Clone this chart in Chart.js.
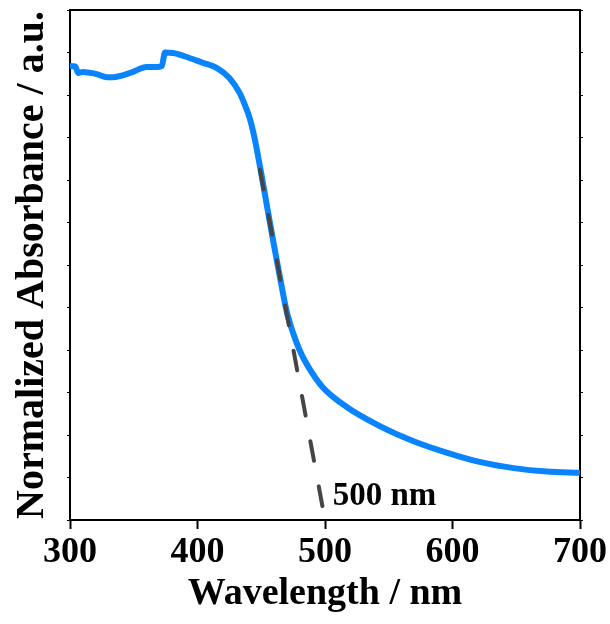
<!DOCTYPE html>
<html>
<head>
<meta charset="utf-8">
<script src="https://cdn.jsdelivr.net/npm/chart.js@4"></script>
<style>
  html, body { margin: 0; padding: 0; background: #fff; }
  #c { display: block; }
</style>
</head>
<body>
<canvas id="c" width="610" height="624"></canvas>
<script>
// ---- data ----
const wavelengths = [300, 304, 306.5, 310, 316, 321, 329, 334, 342, 349, 360, 369, 372, 374.5, 381, 391, 404, 415, 425, 433, 437, 441, 445, 450, 455, 460, 465, 470, 475, 480, 486, 498, 517, 543, 569, 596, 622, 648, 674, 700];
const absorbance  = [1.068, 1.067, 1.052, 1.054, 1.052, 1.049, 1.042, 1.042, 1.047, 1.054, 1.066, 1.066, 1.068, 1.100, 1.099, 1.090, 1.076, 1.064, 1.040, 1.005, 0.978, 0.945, 0.895, 0.815, 0.730, 0.646, 0.566, 0.490, 0.440, 0.400, 0.365, 0.313, 0.266, 0.221, 0.186, 0.158, 0.136, 0.122, 0.114, 0.111];
const tangentX = [449, 500];
const tangentY = [0.824, 0];
const xTickValues = [300, 400, 500, 600, 700];
const xMinorTickValues = [350, 450, 550, 650];
const edgeLabel = "500 nm";
const edgeLabelPos = [506, 0.035];

const serif = "'Liberation Serif', 'Times New Roman', serif";

const annotationPlugin = {
  id: 'edgeLabel',
  afterDatasetsDraw(chart) {
    const {ctx, scales} = chart;
    const px = scales.x.getPixelForValue(edgeLabelPos[0]);
    const py = scales.y.getPixelForValue(edgeLabelPos[1]);
    ctx.save();
    ctx.font = "bold 33px " + serif;
    ctx.fillStyle = '#000';
    ctx.textAlign = 'left';
    ctx.textBaseline = 'alphabetic';
    ctx.fillText(edgeLabel, px, py);
    ctx.restore();
  }
};

new Chart(document.getElementById('c'), {
  type: 'line',
  data: {
    datasets: [
      {
        data: wavelengths.map((w, i) => ({x: w, y: absorbance[i]})),
        borderColor: '#0a84fc',
        borderWidth: 6,
        pointRadius: 0,
        cubicInterpolationMode: 'monotone',
        fill: false,
        order: 2
      },
      {
        data: tangentX.map((w, i) => ({x: w, y: tangentY[i]})),
        borderColor: '#454545',
        borderWidth: 4,
        borderDash: [20, 26],
        borderCapStyle: 'round',
        pointRadius: 0,
        fill: false,
        order: 1
      }
    ]
  },
  options: {
    responsive: false,
    animation: false,
    devicePixelRatio: 1,
    layout: { padding: 0 },
    plugins: { legend: { display: false }, tooltip: { enabled: false } },
    scales: {
      x: {
        type: 'linear', position: 'bottom', min: 300, max: 700,
        afterBuildTicks: s => { s.ticks = xTickValues.map(v => ({value: v})); },
        ticks: { font: { family: serif, size: 36, weight: 'bold' }, color: '#000', padding: 2, maxRotation: 0 },
        grid: { drawOnChartArea: false, drawTicks: true, tickLength: 9, tickWidth: 2, tickColor: '#000' },
        border: { display: true, color: '#000', width: 2 },
        title: { display: true, text: 'Wavelength / nm', color: '#000', font: { family: serif, size: 38, weight: 'bold' }, padding: { top: 0, bottom: 7 } },
        afterFit: s => { s.height = 104; }
      },
      xMinor: {
        type: 'linear', position: 'bottom', min: 300, max: 700, weight: 10,
        afterBuildTicks: s => { s.ticks = xMinorTickValues.map(v => ({value: v})); },
        ticks: { display: false },
        grid: { drawOnChartArea: false, drawTicks: true, tickLength: 6, tickWidth: 2, tickColor: '#000' },
        border: { display: false },
        afterFit: s => { s.height = 0; }
      },
      x2: {
        type: 'linear', position: 'top', min: 300, max: 700,
        ticks: { display: false },
        grid: { display: false },
        border: { display: true, color: '#000', width: 2 },
        afterFit: s => { s.height = 10; }
      },
      y: {
        type: 'linear', position: 'left', min: 0, max: 1.2,
        ticks: { display: false, stepSize: 0.1 },
        grid: { drawOnChartArea: false, drawTicks: true, tickLength: 3, tickWidth: 1, tickColor: '#000' },
        border: { display: true, color: '#000', width: 2 },
        title: { display: true, text: 'Normalized Absorbance / a.u.', color: '#000', font: { family: serif, size: 40, weight: 'bold' }, padding: { top: 9, bottom: 0 } },
        afterFit: s => { s.width = 70; }
      },
      y2: {
        type: 'linear', position: 'right', min: 0, max: 1.2,
        ticks: { display: false, stepSize: 0.1 },
        grid: { drawOnChartArea: false, drawTicks: true, tickLength: 3, tickWidth: 1, tickColor: '#000' },
        border: { display: true, color: '#000', width: 2 },
        afterFit: s => { s.width = 30; }
      }
    }
  },
  plugins: [annotationPlugin]
});
</script>
</body>
</html>
